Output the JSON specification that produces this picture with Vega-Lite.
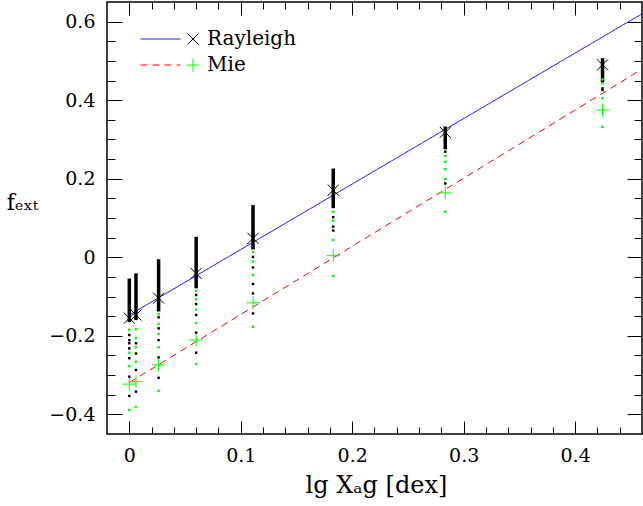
{
  "$schema": "https://vega.github.io/schema/vega-lite/v6.json",
  "width": 535,
  "height": 432,
  "autosize": {"type": "none"},
  "padding": {"left": 107, "top": 2, "right": 1, "bottom": 72},
  "background": "white",
  "config": {
    "view": {"stroke": "black", "strokeWidth": 1.5},
    "axis": {
      "domain": false,
      "grid": false,
      "tickColor": "black",
      "tickWidth": 1,
      "labelFont": "DejaVu Serif",
      "labelFontSize": 19,
      "labelColor": "black",
      "titleFont": "DejaVu Serif",
      "titleFontSize": 24,
      "titleFontWeight": "normal",
      "titleColor": "black"
    }
  },
  "datasets": {
    "fits": [
      {"fit": "Rayleigh fit", "x": 0, "y": -0.147},
      {"fit": "Rayleigh fit", "x": 0.46, "y": 0.620},
      {"fit": "Mie fit", "x": 0, "y": -0.319},
      {"fit": "Mie fit", "x": 0.46, "y": 0.479}
    ],
    "bars": [
      {"x": 0, "ytop": -0.054, "ybot": -0.165},
      {"x": 0.006, "ytop": -0.041, "ybot": -0.16},
      {"x": 0.0263, "ytop": -0.005, "ybot": -0.138},
      {"x": 0.060, "ytop": 0.052, "ybot": -0.079},
      {"x": 0.111, "ytop": 0.133, "ybot": 0.02},
      {"x": 0.183, "ytop": 0.226, "ybot": 0.125},
      {"x": 0.2835, "ytop": 0.333, "ybot": 0.275},
      {"x": 0.4246, "ytop": 0.507, "ybot": 0.445}
    ],
    "dots": [
      {"model": "Mie", "x": 0, "y": -0.185},
      {"model": "Rayleigh", "x": 0, "y": -0.198},
      {"model": "Rayleigh", "x": 0, "y": -0.211},
      {"model": "Rayleigh", "x": 0, "y": -0.219},
      {"model": "Rayleigh", "x": 0, "y": -0.232},
      {"model": "Mie", "x": 0, "y": -0.243},
      {"model": "Rayleigh", "x": 0, "y": -0.257},
      {"model": "Mie", "x": 0, "y": -0.277},
      {"model": "Rayleigh", "x": 0, "y": -0.304},
      {"model": "Rayleigh", "x": 0, "y": -0.353},
      {"model": "Mie", "x": 0, "y": -0.389},
      {"model": "Mie", "x": 0.006, "y": -0.183},
      {"model": "Mie", "x": 0.006, "y": -0.206},
      {"model": "Rayleigh", "x": 0.006, "y": -0.219},
      {"model": "Mie", "x": 0.006, "y": -0.229},
      {"model": "Rayleigh", "x": 0.006, "y": -0.245},
      {"model": "Mie", "x": 0.006, "y": -0.266},
      {"model": "Rayleigh", "x": 0.006, "y": -0.287},
      {"model": "Rayleigh", "x": 0.006, "y": -0.342},
      {"model": "Mie", "x": 0.006, "y": -0.381},
      {"model": "Mie", "x": 0.0263, "y": -0.145},
      {"model": "Rayleigh", "x": 0.0263, "y": -0.153},
      {"model": "Mie", "x": 0.0263, "y": -0.170},
      {"model": "Rayleigh", "x": 0.0263, "y": -0.181},
      {"model": "Mie", "x": 0.0263, "y": -0.195},
      {"model": "Rayleigh", "x": 0.0263, "y": -0.211},
      {"model": "Mie", "x": 0.0263, "y": -0.229},
      {"model": "Rayleigh", "x": 0.0263, "y": -0.255},
      {"model": "Rayleigh", "x": 0.0263, "y": -0.307},
      {"model": "Mie", "x": 0.0263, "y": -0.340},
      {"model": "Mie", "x": 0.060, "y": -0.085},
      {"model": "Rayleigh", "x": 0.060, "y": -0.096},
      {"model": "Mie", "x": 0.060, "y": -0.107},
      {"model": "Rayleigh", "x": 0.060, "y": -0.119},
      {"model": "Mie", "x": 0.060, "y": -0.133},
      {"model": "Rayleigh", "x": 0.060, "y": -0.147},
      {"model": "Mie", "x": 0.060, "y": -0.167},
      {"model": "Rayleigh", "x": 0.060, "y": -0.192},
      {"model": "Rayleigh", "x": 0.060, "y": -0.243},
      {"model": "Mie", "x": 0.060, "y": -0.272},
      {"model": "Mie", "x": 0.111, "y": 0.014},
      {"model": "Rayleigh", "x": 0.111, "y": 0.001},
      {"model": "Mie", "x": 0.111, "y": -0.011},
      {"model": "Rayleigh", "x": 0.111, "y": -0.026},
      {"model": "Mie", "x": 0.111, "y": -0.045},
      {"model": "Rayleigh", "x": 0.111, "y": -0.068},
      {"model": "Rayleigh", "x": 0.111, "y": -0.092},
      {"model": "Rayleigh", "x": 0.111, "y": -0.143},
      {"model": "Mie", "x": 0.111, "y": -0.177},
      {"model": "Mie", "x": 0.183, "y": 0.116},
      {"model": "Rayleigh", "x": 0.183, "y": 0.102},
      {"model": "Mie", "x": 0.183, "y": 0.093},
      {"model": "Rayleigh", "x": 0.183, "y": 0.078},
      {"model": "Rayleigh", "x": 0.183, "y": 0.068},
      {"model": "Mie", "x": 0.183, "y": 0.044},
      {"model": "Mie", "x": 0.183, "y": -0.048},
      {"model": "Rayleigh", "x": 0.2835, "y": 0.269},
      {"model": "Mie", "x": 0.2835, "y": 0.258},
      {"model": "Mie", "x": 0.2835, "y": 0.243},
      {"model": "Mie", "x": 0.2835, "y": 0.224},
      {"model": "Mie", "x": 0.2835, "y": 0.199},
      {"model": "Rayleigh", "x": 0.2835, "y": 0.188},
      {"model": "Mie", "x": 0.2835, "y": 0.116},
      {"model": "Mie", "x": 0.4246, "y": 0.453},
      {"model": "Mie", "x": 0.4246, "y": 0.443},
      {"model": "Rayleigh", "x": 0.4246, "y": 0.430},
      {"model": "Rayleigh", "x": 0.4246, "y": 0.426},
      {"model": "Mie", "x": 0.4246, "y": 0.405},
      {"model": "Mie", "x": 0.4246, "y": 0.332}
    ],
    "markers": [
      {"model": "Rayleigh", "x": 0, "y": -0.155},
      {"model": "Rayleigh", "x": 0.006, "y": -0.147},
      {"model": "Rayleigh", "x": 0.0263, "y": -0.104},
      {"model": "Rayleigh", "x": 0.060, "y": -0.041},
      {"model": "Rayleigh", "x": 0.111, "y": 0.048},
      {"model": "Rayleigh", "x": 0.183, "y": 0.171},
      {"model": "Rayleigh", "x": 0.2835, "y": 0.318},
      {"model": "Rayleigh", "x": 0.4246, "y": 0.490},
      {"model": "Mie", "x": 0, "y": -0.323},
      {"model": "Mie", "x": 0.006, "y": -0.317},
      {"model": "Mie", "x": 0.0263, "y": -0.274},
      {"model": "Mie", "x": 0.060, "y": -0.211},
      {"model": "Mie", "x": 0.111, "y": -0.116},
      {"model": "Mie", "x": 0.183, "y": 0.004},
      {"model": "Mie", "x": 0.2835, "y": 0.164},
      {"model": "Mie", "x": 0.4246, "y": 0.375}
    ]
  },
  "resolve": {"axis": {"x": "independent", "y": "independent"}},
  "layer": [
    {
      "data": {"name": "fits"},
      "mark": {"type": "line", "strokeWidth": 1, "clip": true},
      "encoding": {
        "x": {"field": "x", "type": "quantitative", "scale": {"domain": [-0.02, 0.46], "nice": false, "zero": false},
          "axis": {"orient": "top", "values": [0.02, 0.04, 0.06, 0.08, 0.12, 0.14, 0.16, 0.18, 0.22, 0.24, 0.26, 0.28, 0.32, 0.34, 0.36, 0.38, 0.42, 0.44], "tickSize": -7, "labels": false, "title": null}},
        "y": {"field": "y", "type": "quantitative", "scale": {"domain": [-0.45, 0.65], "nice": false, "zero": false},
          "axis": {"orient": "right", "values": [-0.35, -0.3, -0.25, -0.15, -0.1, -0.05, 0.05, 0.1, 0.15, 0.25, 0.3, 0.35, 0.45, 0.5, 0.55], "tickSize": -8, "labels": false, "title": null}},
        "stroke": {"field": "fit", "type": "nominal",
          "scale": {"domain": ["Rayleigh fit", "Mie fit"], "range": ["#0000ff", "#ff0000"]},
          "legend": {"orient": "none", "legendX": 33, "legendY": 24, "title": null, "labelExpr": "''", "labelFontSize": 20, "symbolType": "stroke", "symbolSize": 1600, "symbolStrokeWidth": 1, "clipHeight": 26, "rowPadding": 0, "padding": 0}},
        "strokeDash": {"field": "fit", "type": "nominal",
          "scale": {"domain": ["Rayleigh fit", "Mie fit"], "range": [[1, 0], [7, 5]]},
          "legend": {"orient": "none", "legendX": 33, "legendY": 24, "title": null, "labelExpr": "''", "labelFontSize": 20, "symbolType": "stroke", "symbolSize": 1600, "symbolStrokeWidth": 1, "clipHeight": 26, "rowPadding": 0, "padding": 0}}
      }
    },
    {
      "data": {"name": "bars"},
      "mark": {"type": "rule", "strokeWidth": 3.5, "color": "black"},
      "encoding": {
        "x": {"field": "x", "type": "quantitative", "scale": {"domain": [-0.02, 0.46], "nice": false, "zero": false},
          "axis": {"orient": "bottom", "values": [0, 0.1, 0.2, 0.3, 0.4], "format": "~g", "tickSize": -13, "labelPadding": 25, "title": "lg Xₐg [dex]", "titleX": 269, "titleY": 58, "titleBaseline": "alphabetic", "titleAlign": "center"}},
        "y": {"field": "ytop", "type": "quantitative", "scale": {"domain": [-0.45, 0.65], "nice": false, "zero": false},
          "axis": {"orient": "left", "values": [-0.4, -0.2, 0, 0.2, 0.4, 0.6], "format": "~g", "tickSize": -15, "labelPadding": 27, "title": "fₑₓₜ", "titleFontSize": 22, "titleAngle": 0, "titleX": -85, "titleY": 207, "titleBaseline": "alphabetic", "titleAlign": "center"}},
        "y2": {"field": "ybot"}
      }
    },
    {
      "data": {"name": "dots"},
      "mark": {"type": "square", "size": 6, "opacity": 1},
      "encoding": {
        "x": {"field": "x", "type": "quantitative", "scale": {"domain": [-0.02, 0.46], "nice": false, "zero": false},
          "axis": {"orient": "bottom", "values": [0.02, 0.04, 0.06, 0.08, 0.12, 0.14, 0.16, 0.18, 0.22, 0.24, 0.26, 0.28, 0.32, 0.34, 0.36, 0.38, 0.42, 0.44], "tickSize": -7, "labels": false, "title": null}},
        "y": {"field": "y", "type": "quantitative", "scale": {"domain": [-0.45, 0.65], "nice": false, "zero": false},
          "axis": {"orient": "left", "values": [-0.35, -0.3, -0.25, -0.15, -0.1, -0.05, 0.05, 0.1, 0.15, 0.25, 0.3, 0.35, 0.45, 0.5, 0.55], "tickSize": -8, "labels": false, "title": null}},
        "fill": {"field": "model", "type": "nominal", "scale": {"domain": ["Mie", "Rayleigh"], "range": ["#00ff00", "black"]}, "legend": null}
      }
    },
    {
      "data": {"name": "markers"},
      "mark": {"type": "point", "filled": false, "strokeWidth": 1, "size": 169, "opacity": 1},
      "encoding": {
        "x": {"field": "x", "type": "quantitative", "scale": {"domain": [-0.02, 0.46], "nice": false, "zero": false},
          "axis": {"orient": "top", "values": [0, 0.1, 0.2, 0.3, 0.4], "tickSize": -13, "labels": false, "title": null}},
        "y": {"field": "y", "type": "quantitative", "scale": {"domain": [-0.45, 0.65], "nice": false, "zero": false},
          "axis": {"orient": "right", "values": [-0.4, -0.2, 0, 0.2, 0.4, 0.6], "tickSize": -15, "labels": false, "title": null}},
        "color": {"field": "model", "type": "nominal", "scale": {"domain": ["Rayleigh", "Mie"], "range": ["black", "#00ff00"]},
          "legend": {"orient": "none", "legendX": 76, "legendY": 24, "title": null, "labelFont": "DejaVu Serif", "labelFontSize": 20, "labelColor": "black", "symbolSize": 169, "symbolStrokeWidth": 1, "labelOffset": 4, "clipHeight": 26, "rowPadding": 0, "padding": 0}},
        "shape": {"field": "model", "type": "nominal", "scale": {"domain": ["Rayleigh", "Mie"], "range": ["M-0.85,-0.85L0.85,0.85M-0.85,0.85L0.85,-0.85", "M-1,0L1,0M0,-1L0,1"]},
          "legend": {"orient": "none", "legendX": 76, "legendY": 24, "title": null, "labelFont": "DejaVu Serif", "labelFontSize": 20, "labelColor": "black", "symbolSize": 169, "symbolStrokeWidth": 1, "labelOffset": 4, "clipHeight": 26, "rowPadding": 0, "padding": 0}}
      }
    }
  ]
}
